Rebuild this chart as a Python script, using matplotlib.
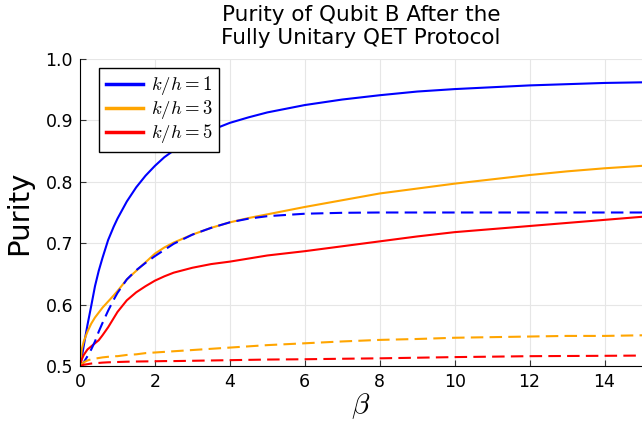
import numpy as np
import matplotlib.pyplot as plt

plt.rcParams['mathtext.fontset'] = 'cm'

beta = [0, 0.05, 0.1, 0.2, 0.3, 0.4, 0.5, 0.6, 0.75, 0.9, 1, 1.25, 1.5, 1.75,
        2, 2.25, 2.5, 3, 3.5, 4, 4.5, 5, 6, 7, 8, 9, 10, 11, 12, 13, 14, 15]

# solid: fully unitary protocol, dashed: reference protocol
p1_solid = [0.5, 0.515, 0.533, 0.567, 0.598, 0.630, 0.655, 0.676, 0.705, 0.727,
            0.740, 0.768, 0.791, 0.810, 0.826, 0.840, 0.851, 0.869, 0.884, 0.896,
            0.905, 0.913, 0.925, 0.934, 0.941, 0.947, 0.951, 0.954, 0.957, 0.959,
            0.961, 0.962]
p1_dash = [0.5, 0.502, 0.506, 0.516, 0.527, 0.540, 0.556, 0.570, 0.590, 0.608,
           0.619, 0.641, 0.656, 0.668, 0.679, 0.689, 0.699, 0.714, 0.725, 0.734,
           0.740, 0.744, 0.748, 0.7495, 0.750, 0.750, 0.750, 0.750, 0.750, 0.750,
           0.750, 0.750]
p3_solid = [0.5, 0.528, 0.540, 0.556, 0.569, 0.579, 0.587, 0.595, 0.605, 0.615,
            0.622, 0.641, 0.655, 0.669, 0.683, 0.693, 0.701, 0.714, 0.725, 0.734,
            0.741, 0.747, 0.759, 0.770, 0.781, 0.789, 0.797, 0.804, 0.811, 0.817,
            0.822, 0.826]
p3_dash = [0.5, 0.503, 0.506, 0.509, 0.511, 0.512, 0.513, 0.514, 0.515, 0.516,
           0.516, 0.518, 0.519, 0.521, 0.522, 0.523, 0.524, 0.526, 0.528, 0.530,
           0.532, 0.534, 0.537, 0.540, 0.5425, 0.544, 0.546, 0.547, 0.548, 0.549,
           0.549, 0.550]
p5_solid = [0.5, 0.511, 0.518, 0.527, 0.532, 0.537, 0.542, 0.550, 0.563, 0.578,
            0.588, 0.607, 0.620, 0.630, 0.639, 0.646, 0.652, 0.660, 0.666, 0.670,
            0.675, 0.680, 0.687, 0.695, 0.703, 0.711, 0.718, 0.723, 0.728, 0.733,
            0.738, 0.743]
p5_dash = [0.5, 0.501, 0.502, 0.503, 0.504, 0.5045, 0.505, 0.5055, 0.506, 0.5063,
           0.5065, 0.507, 0.5073, 0.5075, 0.5077, 0.508, 0.508, 0.5085, 0.509, 0.5095,
           0.510, 0.5105, 0.511, 0.5118, 0.5125, 0.5135, 0.5145, 0.5152, 0.516, 0.5163,
           0.5166, 0.517]

labels = [r"$k/h = 1$", r"$k/h = 3$", r"$k/h = 5$"]
colors = ["#0000ff", "#ffa500", "#ff0000"]
solid = [p1_solid, p3_solid, p5_solid]
dashed = [p1_dash, p3_dash, p5_dash]

fig = plt.figure(figsize=(6.42, 4.30), dpi=100)
ax = fig.add_axes([80/642, 64/430, 562/642, 307/430])

for ys, lab, c in zip(solid, labels, colors):
    ax.plot(beta, ys, color=c, lw=1.5, label=lab)
for ys, c in zip(dashed, colors):
    ax.plot(beta, ys, color=c, lw=1.5, ls=(0, (6, 3)))

ax.set_xlim(0, 15)
ax.set_ylim(0.5, 1.0)
ax.set_xticks(np.arange(0, 15, 2))
ax.set_yticks([0.5, 0.6, 0.7, 0.8, 0.9, 1.0])
ax.grid(color="#e6e6e6", lw=0.8)
ax.set_axisbelow(True)
for s in ["top", "right"]:
    ax.spines[s].set_visible(False)
ax.tick_params(direction="in", length=4, labelsize=12.5, pad=5, color="#333333")
ax.set_xlabel(r"$\beta$", fontsize=21, labelpad=0)
ax.set_ylabel("Purity", fontsize=21, labelpad=9)
ax.set_title("Purity of Qubit B After the\nFully Unitary QET Protocol",
             fontsize=15.5, pad=11, linespacing=1.2)

leg = ax.legend(loc="upper left", bbox_to_anchor=(0.034, 0.971), borderaxespad=0,
                fontsize=13.5, fancybox=False, edgecolor="black", framealpha=1,
                handlelength=2.0, labelspacing=0.05, borderpad=0.35, handletextpad=0.4)
leg.get_frame().set_linewidth(1.0)
for h in leg.legend_handles:
    h.set_linewidth(2.5)

fig.savefig("out.png", dpi=100)
